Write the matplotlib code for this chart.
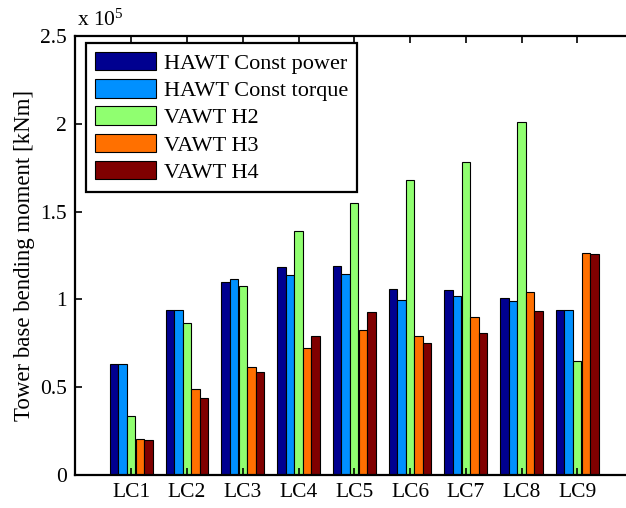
"""Grouped bar chart of tower base bending moment per load case."""

import numpy as np
from matplotlib import pyplot as plt

plt.rcParams['font.family'] = ['Liberation Serif', 'DejaVu Serif']
plt.rcParams['mathtext.fontset'] = 'custom'
plt.rcParams['mathtext.rm'] = 'Liberation Serif'
plt.rcParams['mathtext.it'] = 'Liberation Serif:italic'

# Load cases and moments (units of 1e5 kNm)
cases = ['LC1', 'LC2', 'LC3', 'LC4', 'LC5', 'LC6', 'LC7', 'LC8', 'LC9']
hawt_power = [0.632, 0.940, 1.097, 1.184, 1.192, 1.061, 1.055, 1.010, 0.940]
hawt_torque = [0.632, 0.940, 1.114, 1.139, 1.143, 0.995, 1.019, 0.989, 0.940]
vawt_h2 = [0.336, 0.867, 1.076, 1.389, 1.549, 1.680, 1.784, 2.010, 0.651]
vawt_h3 = [0.207, 0.488, 0.615, 0.721, 0.828, 0.790, 0.898, 1.040, 1.262]
vawt_h4 = [0.199, 0.437, 0.585, 0.791, 0.928, 0.752, 0.811, 0.932, 1.257]

series = [hawt_power, hawt_torque, vawt_h2, vawt_h3, vawt_h4]
labels = ['HAWT Const power', 'HAWT Const torque', 'VAWT H2', 'VAWT H3', 'VAWT H4']
# jet colours like MATLAB's default bar colormap
colors = ['#000090', '#0090ff', '#90ff70', '#ff7000', '#800000']

fig = plt.figure(figsize=(6.26, 5.08), dpi=100)
ax = fig.add_axes([0.1206, 0.065, 0.8906, 0.864])

x = np.arange(1, len(cases) + 1)
pitch = 0.154
for i, (vals, lab, col) in enumerate(zip(series, labels, colors)):
    ax.bar(x + (i - 2) * pitch, vals, width=0.15, color=col,
           edgecolor='black', linewidth=0.8, label=lab)

ax.set_xlim(0, 10)
ax.set_ylim(0, 2.5)
ax.set_xticks(x)
ax.set_xticklabels(cases)
ax.set_yticks(np.arange(0, 2.51, 0.5))
ax.set_yticklabels(['0', '0.5', '1', '1.5', '2', '2.5'])
ax.tick_params(direction='in', length=5, width=1.2, labelsize=15.5, top=True, pad=6)
for s in ax.spines.values():
    s.set_linewidth(1.6)

ax.set_ylabel('Tower base bending moment [kNm]', fontsize=16.5, labelpad=4)
ax.text(0.002, 1.012, r'x 10$^5$', transform=ax.transAxes, fontsize=15.5,
        ha='left', va='bottom')

leg = ax.legend(loc='upper left', bbox_to_anchor=(0.0188, 0.984), borderaxespad=0,
                fontsize=16, handlelength=2.75, handleheight=0.9,
                labelspacing=0.24, handletextpad=0.35, borderpad=0.4,
                fancybox=False, framealpha=1, edgecolor='black')
leg.get_frame().set_linewidth(1.6)

fig.savefig('out.png', dpi=100)
